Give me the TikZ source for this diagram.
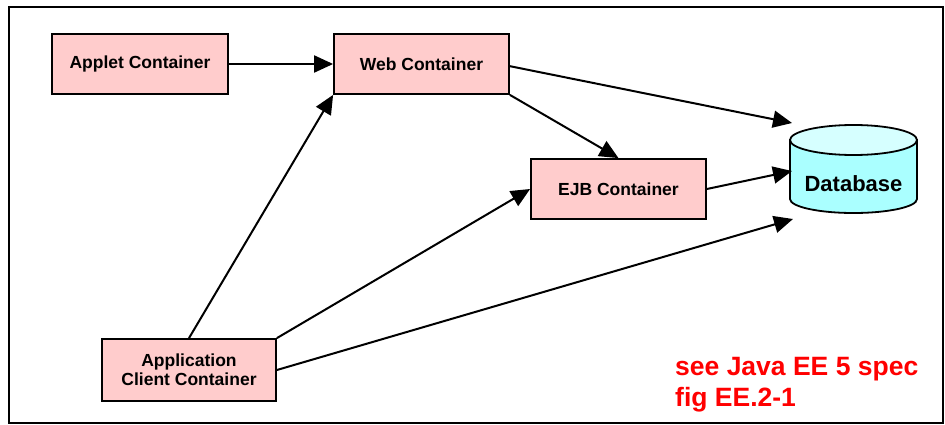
\documentclass[tikz,border=0pt]{standalone}
\usepackage{fontspec}
\setmainfont{Liberation Sans}
\usetikzlibrary{arrows.meta}
\definecolor{boxpink}{RGB}{255,204,204}
\definecolor{dbbody}{RGB}{170,255,255}
\definecolor{dbtop}{RGB}{214,255,255}
\definecolor{notered}{RGB}{255,0,0}
\begin{document}
\begin{tikzpicture}[x=1pt,y=-1pt,
  container/.style={draw=black,line width=1.8pt,fill=boxpink,minimum height=60pt,
    inner sep=0pt,font=\fontsize{17.5}{19}\selectfont\bfseries,align=center},
  conn/.style={line width=2pt,-{Triangle[length=19pt,width=17pt]}}]
\useasboundingbox (0,0) rectangle (945,425);
\draw[line width=1.2pt] (9,7) rectangle (943,423);
\node[container,minimum width=176pt] (applet) at (140,64) {Applet Container};
\node[container,minimum width=175pt] (web) at (421.5,64) {Web Container};
\node[container,minimum width=175pt] (ejb) at (618.5,189) {EJB Container};
\node[container,minimum width=174pt,minimum height=62pt] (app) at (189,370) {Application\\Client Container};
% database cylinder
\node[minimum width=127pt,minimum height=88pt,inner sep=0pt] (db) at (853.5,169) {};
\draw[line width=1.8pt,fill=dbbody] (790,140) -- (790,199) arc[start angle=180,end angle=0,x radius=63.5,y radius=14] -- (917,140) -- cycle;
\draw[line width=1.8pt,fill=dbtop] (853.5,140) ellipse[x radius=63.5,y radius=15];
\node[font=\fontsize{22}{26}\selectfont\bfseries] (dblabel) at (853.5,184) {Database};
\coordinate (dbA) at (792,123);
\coordinate (dbB) at (792,171);
\coordinate (dbC) at (793,219);
\coordinate (webout) at (509,66);
% connectors
\draw[conn] (applet.east) -- (web.west);
\draw[conn] (webout) -- (dbA);
\draw[conn] (web.south east) -- (ejb.north);
\draw[conn] (ejb.east) -- (dbB);
\draw[conn] (app.north) -- (web.south west);
\draw[conn] (app.north east) -- (ejb.west);
\draw[conn] (app.east) -- (dbC);
\node[anchor=base west,inner sep=0pt,text=notered,font=\fontsize{26.5}{31}\selectfont\bfseries] (note) at (675,375)
  {\begin{tabular}[t]{@{}l@{}}see Java EE 5 spec\\fig EE.2-1\end{tabular}};
\end{tikzpicture}
\end{document}
